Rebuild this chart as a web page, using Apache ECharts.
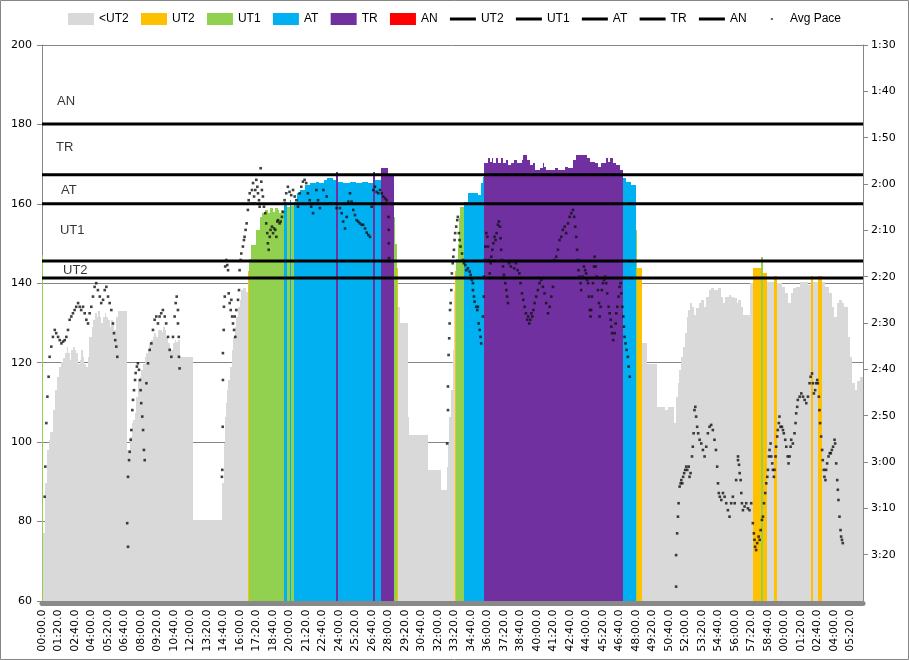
<!DOCTYPE html>
<html>
<head>
<meta charset="utf-8">
<script src="https://cdn.jsdelivr.net/npm/echarts@6/dist/echarts.min.js"></script>
<style>
  html, body { margin: 0; padding: 0; background: #fff; }
  #chart { width: 909px; height: 660px; }
</style>
</head>
<body>
<div id="chart"></div>
<script>
// heart rate, as steps: start second of each step and its bpm
const hrStart = [0,5,15,25,35,40,55,65,75,80,90,100,110,120,125,135,140,150,160,165,175,185,190,200,205,215,225,230,240,245,255,265,270,280,285,295,305,310,320,330,335,345,350,360,370,
  410,425,435,440,450,455,465,475,480,490,500,505,515,520,530,540,545,555,560,580,585,595,600,610,620,625,635,645,650,660,670,730,
  875,880,885,890,895,900,910,920,925,935,940,950,960,965,975,990,1000,1005,1015,1035,1055,1065,1080,1095,1105,1120,1130,1145,1150,1160,1170,
  1175,1190,1200,1205,1220,1235,1250,1275,1300,1330,1345,1365,1380,1410,1425,1435,1460,1495,1520,1550,1580,1605,1615,1645,1675,
  1705,1710,1720,1725,1735,1775,1780,1870,1935,1965,1970,1975,1985,1990,1995,2000,2005,2015,2020,2025,2045,2065,2115,2130,2140,
  2145,2160,2170,2180,2185,2200,2210,2225,2235,2250,2260,2275,2290,2305,2325,2330,2350,2365,2380,2390,2415,2430,2435,2445,2485,2500,2535,2550,2575,2590,2640,2655,2680,2695,2710,2735,2745,2755,2770,2785,2800,
  2815,2830,2855,2880,2885,2910,2935,2980,3020,3035,3065,3075,3085,3090,3100,3105,3115,3125,3130,3140,3150,3160,3170,3185,3195,3210,3220,3235,3245,3260,3275,3290,3300,3310,3330,3340,3355,3370,3375,3390,3400,
  3430,3445,3485,3495,3515,3550,3565,3585,3600,3615,3630,3640,3655,3675,3715,3730,3740,3760,3780,3795,3815,3830,3840,3855,3865,3880,3890,3905,3915,3925,3940,3950,3965];
const hrBpm = [147,77,89.6,98,100.5,102.6,108.1,113.1,116.5,119,120.3,121.1,122.4,124,122.4,120.7,123.2,124,123.2,122.4,119.8,120.7,123.2,121.5,119.8,119,121.5,126.5,129.1,130.8,132.4,131.6,133,131.6,129.9,131.6,132.4,131.6,130.8,129.1,130.8,129.9,128.2,131.6,133,
  98,101.4,104.7,105.6,107.3,111.4,115.6,116.5,118.2,119.8,121.5,122.4,123.2,124.9,125.7,126.5,127.4,126.5,128.2,127.8,129.1,128.2,126.5,124.9,123.6,123.2,124.9,125.7,125.3,125.7,121.5,80.4,
  89.6,99.7,106.4,109.8,113.1,115.6,119,123.2,126.5,129.1,131.6,134.1,135.8,138.3,138.9,137.9,143,146,149.6,153.4,156.7,157.6,158.5,157.6,158.9,158,158.9,158.5,157.6,158.5,158.2,
  160.5,159.3,161,159.5,160.5,162.7,163.5,164.7,165.2,165.6,165.2,166,166.4,166,168,165.5,165.2,165.6,165.2,165.6,165.2,168,166,169,167.6,
  156.8,150,143.8,134.1,130,106.4,101.8,93,88,93.8,99.7,106.4,113.1,123.2,138,143,146,150,156.5,159.3,160.5,162.8,162.3,165.2,166.8,
  170.2,171.5,170.6,171.5,170.2,171.5,170.2,171.5,170.2,171,169.8,170.2,171,170.2,171,172.3,171,169.8,170.2,168.6,169,170.2,169.4,168.6,169,168.6,169.4,169,171,172.3,171.5,170.6,170.2,169.4,170.2,171.5,170.6,171.5,170.4,169.8,168.6,
  166.5,165.6,164.7,153.4,143.8,124.9,119.8,108.9,108.1,108.9,104.8,111.4,114.8,118.2,121.5,124,127.4,131.6,133.3,135,134.1,132,133.7,135,135.8,134.1,136.6,138.3,138.7,138.3,138.7,136.6,135,136.6,137,136.6,136.2,135,135.8,134.1,132,
  140,143.8,146.7,142.6,140.4,141.8,140,139,137.5,135,137.5,138.8,139,140.2,139.6,141.8,140.2,141.8,140.2,139,137.5,134.1,131.6,135,135.8,135,134.1,126.5,121.5,114.8,113.1,115.5,116.5];
const hrEnd = 3980;

// average pace (seconds per 500 m)
const paceTime = [13,16,21,26,32,37,45,53,62,69,78,86,94,102,110,118,126,134,142,150,158,166,175,183,190,199,207,215,223,231,239,247,255,263,271,280,287,296,304,312,320,328,336,344,349,355,360,365,
  413,417,417,422,425,430,433,438,441,446,451,454,460,465,470,475,478,481,486,490,494,498,506,514,522,530,538,546,554,562,570,578,586,595,602,611,619,627,635,643,648,653,659,659,663,664,667,
  872,874,876,877,877,881,882,886,888,893,898,902,905,910,915,918,922,926,931,934,937,942,950,955,958,963,966,974,979,982,987,992,998,1002,1007,1012,1018,1023,1028,1031,1034,1039,1044,1047,1052,1055,1060,1063,1066,1071,1076,1082,1087,1092,1095,1099,1104,1108,1115,1120,1125,1131,1136,1141,1144,1152,1157,1163,1168,1176,1184,1192,1200,1208,1217,1225,1233,1241,1249,1257,1265,1273,1281,1289,1298,1305,1314,1322,1330,1338,1347,
  1364,1380,1396,1412,1428,1444,1453,1460,1469,1477,1485,1493,1501,1509,1517,1525,1533,1541,1550,1557,1566,1574,1582,1590,1598,1606,1614,1622,1630,1638,1647,1654,1663,1671,1678,1680,1681,1681,1682,
  1964,1968,1968,1971,1974,1976,1978,1981,1984,1987,1991,1994,1997,2000,2003,2008,2013,2016,2021,2024,2029,2036,2041,2045,2052,2057,2065,2073,2078,2084,2089,2089,2094,2097,2105,2110,2113,2117,2122,2126,2129,2137,2141,2142,2146,2149,2154,2159,2162,2165,2170,2175,2178,2183,2188,2194,2199,2204,2210,2215,2220,2223,2226,2230,2235,2239,2246,2251,2255,2259,
  2264,2273,2281,2289,2298,2306,2314,2320,2327,2333,2340,2346,2352,2357,2362,2367,2372,2377,2382,2388,2396,2404,2412,2420,2428,2436,2444,2453,2461,2469,2477,2485,2493,2501,2509,2517,2525,2534,2541,2550,2558,2566,2574,2580,2585,2590,2594,2598,2601,2606,2611,2614,2621,2627,2633,2638,2643,2647,2651,2656,2659,2662,2666,2671,2676,2679,2684,2689,2695,2700,2703,2708,2714,2719,2724,2730,2735,2740,2747,2752,2757,2760,2764,2769,2776,2781,2784,2789,2795,2800,2805,2808,2813,2818,2821,2824,2829,2834,2840,2844,2849,
  3074,3074,3079,3083,3086,3091,3096,3099,3104,3108,3113,3118,3123,3128,3135,3139,3144,3151,3155,3159,3163,3167,3171,3176,3181,3188,3196,3204,3212,3220,3228,3236,3244,3252,3260,3267,3273,3277,3281,3286,3293,3301,3309,3317,3325,3333,3341,3349,3358,3365,3374,3374,3379,3382,3387,3390,3393,3398,3406,3414,3422,3430,3438,
  3446,3451,3454,3457,3462,3467,3474,3479,3484,3490,3495,3500,3506,3511,3516,3519,3524,3527,3532,3535,3540,3543,3548,3551,3556,3559,3564,3567,3572,3575,3580,3587,3592,3596,3603,3608,3615,3619,3624,3629,3632,3640,3648,3653,3656,3661,3664,3673,3681,3689,3697,3705,3713,3721,3726,3733,3737,3742,3748,3753,3758,3761,3766,3769,3772,3777,3782,3785,3790,3793,3798,3801,3806,3813,3819,3824,3829,3835,3842,3845,3850,3855,3858,3861,3866,3871,3874,3878,3882];
const paceSec = [187.5,181,171.6,165.9,161.6,157.3,155.1,153,151.5,152.2,153,153.7,154.4,154,153.7,153,151.5,149.3,148.6,147.9,147.2,146.5,145.7,146.5,147.2,146.5,147.9,149.3,150.1,147.9,146.5,144.3,142.2,141.4,142.9,144.3,145.7,145,142.9,142.2,144.3,145.7,147.2,150.1,152.2,153.7,155.1,157.3,
  193.2,198.3,183.2,179.6,177.8,175.2,173.1,168.8,166.6,164.5,162.3,160.8,159.4,158.7,160.1,162.3,164.5,167.3,170.2,173.1,177.4,179.6,163,158.7,155.8,154.4,151.5,149.3,148.6,150.1,148.6,147.9,147.2,148.6,150.1,153,155.8,157.3,153,148.6,145.7,144.3,147.2,150.1,153,157.3,159.8,
  183.2,181.7,172.4,162.3,156.5,151.5,146.5,144.3,137.8,136.4,137.5,138.6,143.6,145.7,147.2,145,148.6,150.1,151.5,148.6,153,147.2,145,142.9,138.6,136.4,135,133.5,132.1,131.4,129.9,128.5,125.6,123.5,122,124.2,121.3,119.8,122.7,124.2,121.3,119.1,120.6,122,123.5,124.9,116.6,119.5,121.3,122.7,124.9,126.3,128.5,130.6,132.8,134.2,131.4,129.9,129.2,130.6,129.6,129.9,131.4,128.1,127.8,128.5,128.1,127.1,126,123.5,122,120.6,121.7,122.4,121.3,122.7,123.5,124.9,122,120.6,119.5,119.1,119.8,122,123.5,124.9,126.3,124.2,121.3,123.5,125.2,
  121.3,122.7,124.2,124.2,125.2,125.2,126.3,128.1,129.6,127.1,123.8,122,123.8,125.6,126.7,127.8,128.1,128.5,128.8,128.8,129.6,130.5,131,131.4,124.9,121.3,120.6,121.7,122,121.3,122,122.7,123.1,123.5,124.2,127.1,129.9,132.8,136,
  176,168.8,163.7,156.9,153.3,150.1,147.2,145.7,142.9,139.3,137.1,135.7,134.2,132.1,130.6,129.2,127.8,127.1,130.6,132.1,133.5,135,136.4,137.1,137.5,138.6,138.2,138.9,139.6,140.7,141.4,142.9,144.3,145.4,146.5,147.2,146.5,150.1,151.5,153,154.4,148.6,144.3,140,136.4,133.5,130.6,131.4,133.5,136.4,139.3,137.1,135.7,134.2,132.8,131.4,132.1,130.6,128.8,128.1,129.2,131.7,134.2,136.4,137.8,139.6,141.4,142.9,144.3,145.7,
  137.1,137.8,136.8,138.2,137.1,138.6,139.3,141.4,143.6,145,146.5,147.9,149.3,148.6,150.1,149.3,147.9,148.6,147.2,145.7,144.3,142.9,141.4,140.7,142.2,143.6,145.7,147.9,146.5,144.3,142.2,136.4,135.7,134.2,132.1,131.4,129.9,129.2,130.6,128.5,127.1,126.3,125.6,127.1,129.2,131.4,134.2,136.4,138.6,140,141.4,142.9,140,137.8,138.6,139.3,140.7,141.4,144.3,147.2,148.6,147.2,144.3,141.4,137.8,135.7,137.8,140,142.9,145.7,148.6,146.5,142.9,141.4,140.7,140,141.4,143.6,146.5,147.9,149.3,150.8,152.2,153.7,152.2,150.1,147.9,146.5,144.3,142.2,141.4,143.6,146.5,148.6,150.8,153,154.4,155.8,157.3,159.4,161.6,
  206.9,200.1,195.4,191.8,188.9,185.3,184.6,183.9,184.6,183.2,182.4,181.7,181,181.7,181,183.2,182.4,178.8,176.7,173.8,168.8,168.1,170.2,172.4,173.8,175.2,176,177.4,178.8,176.7,173.8,172.4,172,173.1,175.2,177.4,181,184.6,186.7,187.5,188.2,186.7,187.5,188.9,190.4,191.8,188.9,187.5,188.9,183.9,179.6,178.8,180.6,182.4,183.9,186.7,188.9,190.4,189.6,188.9,190,190.4,188.9,
  193.2,195.4,196.8,198.3,199,197.5,196.1,196.8,194.7,192.5,191.8,188.9,186.7,184.6,183.2,181.7,178.8,177.4,176,178.8,180.3,181.7,183.2,181.7,178.8,176.7,174.5,173.1,171.6,170.2,172.4,172.4,173.1,173.8,175.2,176.7,178.8,180.3,178.8,176.7,175.2,176,173.8,171.6,169.5,168.1,166.6,165.9,165.2,165.9,166.6,167.3,165.9,163,161.6,160.9,163,165.2,164.5,163,162.3,163,165.9,168.8,171.6,174.5,177.4,179.6,181.7,183.2,183.9,181.7,180.3,178.8,178.1,178.1,177.4,176.7,175.2,176,180.3,183.9,186,188.2,191.8,194.7,196.1,196.8,197.5];

// training zones
const zoneNames = ['<UT2', 'UT2', 'UT1', 'AT', 'TR', 'AN'];
const zoneColors = ['#d9d9d9', '#ffc000', '#92d050', '#00b0f0', '#7030a0', '#ff0000'];
// lower bpm limit of UT2..AN (drawn as black lines)
const limitNames = ['UT2', 'UT1', 'AT', 'TR', 'AN'];
const limitBpm = [141.3, 145.6, 160, 167.3, 180.1];

// zone captions inside the plot (time in s, bpm)
const captionNames = ['AN', 'TR', 'AT', 'UT1', 'UT2'];
const captionTime = [73, 68, 92, 87, 102];
const captionBpm = [185.7, 174.1, 163.5, 153.4, 143.3];

const axisFont = 'DejaVu Sans';
const legendFont = '"Liberation Sans", Arial, sans-serif';

function zoneOf(v) {
    let z = 0;
    for (let i = 0; i < limitBpm.length; i++) {
        if (v >= limitBpm[i]) z = i + 1;
    }
    return z;
}

// split the steps into one list per zone: [start, end, bpm]
const zoneSegs = zoneNames.map(() => []);
for (let i = 0; i < hrStart.length; i++) {
    const end = i + 1 < hrStart.length ? hrStart[i + 1] : hrEnd;
    zoneSegs[zoneOf(hrBpm[i])].push([hrStart[i], end, hrBpm[i]]);
}

function pad(n) { return (n < 10 ? '0' : '') + n; }

// snap each step to whole pixels so neighbours don't leave hairline gaps
function renderStep(color) {
    return function (params, api) {
        const p0 = api.coord([api.value(0), api.value(2)]);
        const p1 = api.coord([api.value(1), 60]);
        const x0 = Math.round(p0[0]);
        let x1 = Math.round(p1[0]);
        if (x1 <= x0) x1 = x0 + 1;
        const y0 = Math.round(p0[1]);
        return {
            type: 'rect',
            shape: { x: x0, y: y0, width: x1 - x0, height: p1[1] - y0 },
            style: { fill: color }
        };
    };
}

const series = [];
zoneNames.forEach((name, i) => {
    series.push({
        name: name,
        type: 'custom',
        renderItem: renderStep(zoneColors[i]),
        data: zoneSegs[i],
        encode: { x: [0, 1], y: 2 },
        itemStyle: { color: zoneColors[i] },
        silent: true,
        z: 1
    });
});
// line series get a trailing space so the legend keeps them apart from the zone areas
limitNames.forEach((name, i) => {
    series.push({
        name: name + ' ',
        type: 'line',
        data: [[0, limitBpm[i]], [hrEnd, limitBpm[i]]],
        symbol: 'none',
        lineStyle: { color: '#000', width: 3 },
        itemStyle: { color: '#000' },
        silent: true,
        z: 3
    });
});
series.push({
    name: 'Avg Pace',
    type: 'scatter',
    yAxisIndex: 1,
    data: paceTime.map((t, i) => [t, paceSec[i]]),
    symbol: 'rect',
    symbolSize: 2.6,
    itemStyle: { color: '#111' },
    silent: true,
    z: 4
});
series.push({
    name: 'captions',
    type: 'scatter',
    data: captionNames.map((n, i) => [captionTime[i], captionBpm[i], n]),
    symbolSize: 0,
    label: {
        show: true,
        position: 'right',
        distance: 0,
        formatter: p => p.data[2],
        color: '#000',
        fontSize: 13,
        fontFamily: legendFont
    },
    silent: true,
    z: 5
});

const bandIcon = 'path://M0,0L26,0L26,0Z M0,4.5L26,4.5L26,7.5L0,7.5Z M0,12L26,12L26,12Z';
const dotIcon = 'path://M0,0L26,0L26,0Z M12,5L14,5L14,7L12,7Z M0,12L26,12L26,12Z';
const legendData = zoneNames.map((n, i) => ({ name: n, icon: 'rect', itemStyle: { color: zoneColors[i], borderWidth: 0 } }))
    .concat(limitNames.map(n => ({ name: n + ' ', icon: bandIcon, itemStyle: { color: '#000', borderWidth: 0 } })))
    .concat([{ name: 'Avg Pace', icon: dotIcon, itemStyle: { color: '#333', borderWidth: 0 } }]);

const chart = echarts.init(document.getElementById('chart'), null, { renderer: 'canvas' });
chart.setOption({
    animation: false,
    backgroundColor: '#fff',
    textStyle: { fontFamily: axisFont },
    legend: {
        data: legendData,
        left: 68,
        top: 13,
        itemWidth: 26,
        itemHeight: 12,
        itemGap: 12.3,
        padding: 0,
        formatter: name => name.trim(),
        textStyle: { fontSize: 12, fontFamily: legendFont, color: '#000' },
        selectedMode: false
    },
    grid: { left: 42, right: 46, top: 45, bottom: 59, containLabel: false, outerBoundsMode: 'none' },
    xAxis: {
        type: 'value',
        min: 0,
        max: hrEnd,
        interval: 80,
        offset: 2.5,
        axisLine: { lineStyle: { color: '#898989', width: 5 } },
        axisTick: { show: false },
        splitLine: { show: false },
        axisLabel: {
            rotate: 90,
            margin: 6,
            showMaxLabel: false,
            color: '#000',
            fontSize: 11,
            fontFamily: axisFont,
            formatter: v => pad(Math.floor(v / 60) % 60) + ':' + pad(Math.round(v % 60)) + '.0'
        }
    },
    yAxis: [{
        type: 'value',
        min: 60,
        max: 200,
        interval: 20,
        axisLine: { show: true, lineStyle: { color: '#868686', width: 1 } },
        axisTick: { show: true, length: 5, lineStyle: { color: '#868686' } },
        splitLine: { show: true, lineStyle: { color: '#868686', width: 1 } },
        axisLabel: { color: '#000', fontSize: 11, fontFamily: axisFont, margin: 10 }
    }, {
        type: 'value',
        position: 'right',
        inverse: true,
        min: 90,
        max: 210,
        interval: 10,
        axisLine: { show: true, lineStyle: { color: '#868686', width: 1 } },
        axisTick: { show: true, length: 5, lineStyle: { color: '#868686' } },
        splitLine: { show: false },
        axisLabel: {
            color: '#000',
            fontSize: 11,
            fontFamily: axisFont,
            margin: 8,
            showMaxLabel: false,
            formatter: v => Math.floor(v / 60) + ':' + pad(v % 60)
        }
    }],
    graphic: [{
        type: 'rect',
        shape: { x: 0.5, y: 0.5, width: 908, height: 659 },
        style: { fill: null, stroke: '#868686', lineWidth: 1 },
        silent: true,
        z: -1
    }],
    series: series
});
</script>
</body>
</html>
